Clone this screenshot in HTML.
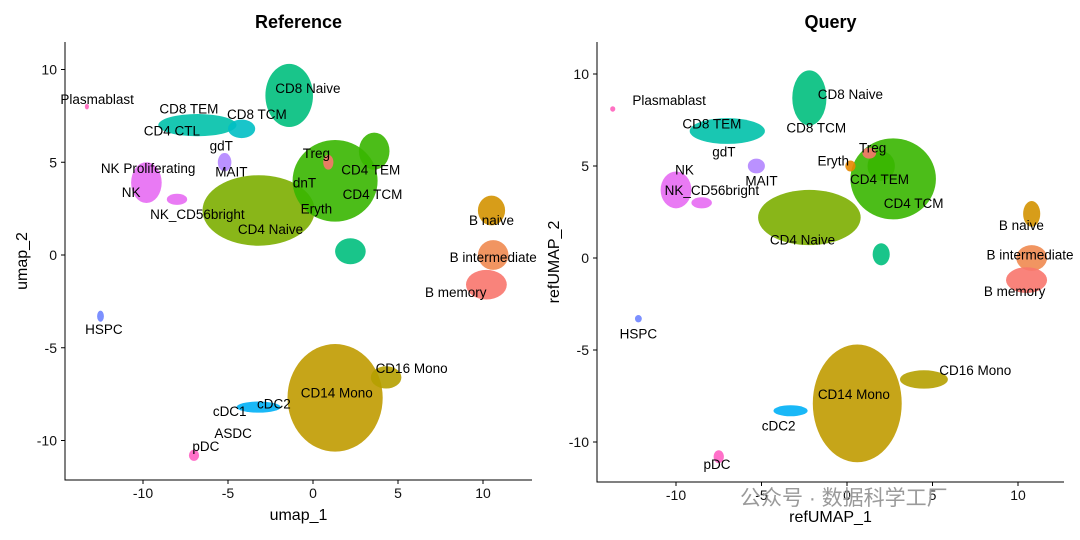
<!DOCTYPE html>
<html><head><meta charset="utf-8"><style>
body{margin:0;background:#fff;}
svg{display:block;font-family:"Liberation Sans",Arial,sans-serif;}
</style></head><body>
<svg id="chart" width="1080" height="540"></svg>
<script>
// Reference panel clusters: name, x, y, rx, ry, color
const refNames = ["CD4 Naive","CD4 TCM","CD4 TEM","CD8 Naive","CD8 Naive low","CD8 TEM","CD8 TCM","NK","NK bright","MAIT","B naive","B intermediate","B memory","CD14 Mono","CD16 Mono","cDC2","pDC","HSPC","Plasmablast","Treg"];
const refX = [-3.2,1.3,3.6,-1.4,2.2,-6.8,-4.2,-9.8,-8.0,-5.2,10.5,10.6,10.2,1.3,4.3,-3.2,-7.0,-12.5,-13.3,0.9];
const refY = [2.4,4.0,5.6,8.6,0.2,7.0,6.8,3.9,3.0,5.0,2.4,0.0,-1.6,-7.7,-6.6,-8.2,-10.8,-3.3,8.0,5.0];
const refRX = [3.3,2.5,0.9,1.4,0.9,2.3,0.8,0.9,0.6,0.4,0.8,0.9,1.2,2.8,0.9,1.3,0.3,0.2,0.12,0.3];
const refRY = [1.9,2.2,1.0,1.7,0.7,0.6,0.5,1.1,0.3,0.5,0.8,0.8,0.8,2.9,0.6,0.3,0.3,0.3,0.15,0.4];
const refCol = ["#7CAE00","#39B600","#39B600","#00BF7D","#00BF7D","#00C1AA","#00BFC4","#E76BF3","#E76BF3","#B385FF","#D39200","#EF8A50","#F8766D","#C09B00","#B5A000","#00B0F6","#FF61C3","#6E84FF","#FF62BC","#F8766D"];
const refLabels = ["Plasmablast","CD8 TEM","CD8 TCM","CD8 Naive","CD4 CTL","gdT","MAIT","NK Proliferating","NK","NK_CD56bright","Treg","CD4 TEM","dnT","CD4 TCM","Eryth","CD4 Naive","B naive","B intermediate","B memory","HSPC","CD16 Mono","CD14 Mono","cDC1","cDC2","ASDC","pDC"];
const refLX = [-12.7,-7.3,-3.3,-0.3,-8.3,-5.4,-4.8,-9.7,-10.7,-6.8,0.2,3.4,-0.5,3.5,0.2,-2.5,10.5,10.6,8.4,-12.3,5.8,1.4,-4.9,-2.3,-4.7,-6.3];
const refLY = [8.4,7.9,7.6,9.0,6.7,5.9,4.5,4.7,3.4,2.2,5.5,4.6,3.9,3.3,2.5,1.4,1.9,-0.1,-2.0,-4.0,-6.1,-7.4,-8.4,-8.0,-9.6,-10.3];
// Query panel
const qNames = ["CD4 Naive","CD4 TCM","CD4 TEM","CD8 Naive","CD8 Naive low","CD8 TEM","NK","NK bright","MAIT","B naive","B intermediate","B memory","CD14 Mono","CD16 Mono","cDC2","pDC","HSPC","Plasmablast","Treg","Eryth"];
const qX = [-2.2,2.7,2.0,-2.2,2.0,-7.0,-10.0,-8.5,-5.3,10.8,10.8,10.5,0.6,4.5,-3.3,-7.5,-12.2,-13.7,1.3,0.2];
const qY = [2.2,4.3,5.0,8.7,0.2,6.9,3.7,3.0,5.0,2.4,0.0,-1.2,-7.9,-6.6,-8.3,-10.8,-3.3,8.1,5.7,5.0];
const qRX = [3.0,2.5,0.8,1.0,0.5,2.2,0.9,0.6,0.5,0.5,0.9,1.2,2.6,1.4,1.0,0.3,0.2,0.15,0.4,0.3];
const qRY = [1.5,2.2,0.8,1.5,0.6,0.7,1.0,0.3,0.4,0.7,0.7,0.7,3.2,0.5,0.3,0.35,0.2,0.15,0.3,0.3];
const qCol = ["#7CAE00","#39B600","#39B600","#00BF7D","#00BF7D","#00C1AA","#E76BF3","#E76BF3","#B385FF","#D39200","#EF8A50","#F8766D","#C09B00","#B5A000","#00B0F6","#FF61C3","#6E84FF","#FF62BC","#F8766D","#E58700"];
const qLabels = ["Plasmablast","CD8 TEM","CD8 TCM","CD8 Naive","NK","gdT","MAIT","NK_CD56bright","Treg","Eryth","CD4 TEM","CD4 TCM","CD4 Naive","B naive","B intermediate","B memory","HSPC","CD16 Mono","CD14 Mono","cDC2","pDC"];
const qLX = [-10.4,-7.9,-1.8,0.2,-9.5,-7.2,-5.0,-7.9,1.5,-0.8,1.9,3.9,-2.6,10.2,10.7,9.8,-12.2,7.5,0.4,-4.0,-7.6];
const qLY = [8.6,7.3,7.1,8.9,4.8,5.8,4.2,3.7,6.0,5.3,4.3,3.0,1.0,1.8,0.2,-1.8,-4.1,-6.1,-7.4,-9.1,-11.2];
const xTicks = [-10,-5,0,5,10];
const yTicks = [-10,-5,0,5,10];

const svg = document.getElementById('chart');
const NS = 'http://www.w3.org/2000/svg';
function mk(tag, attrs, parent){const e=document.createElementNS(NS,tag);for(const k in attrs)e.setAttribute(k,attrs[k]);parent.appendChild(e);return e;}

function panel(p){
  const g = mk('g',{},svg);
  
  
  const sx = v => p.x0 + v*p.kx;
  const sy = v => p.y0 - v*p.ky;
  const t = mk('text',{x:(p.left+p.right)/2,y:28,'text-anchor':'middle','font-size':18,'font-weight':'bold'},g);
  t.textContent = p.title;
  
  
  for(let i=0;i<p.names.length;i++){
    const e = mk('ellipse',{cx:sx(p.cx[i]),cy:sy(p.cy[i]),rx:p.rx[i]*p.kx,ry:p.ry[i]*p.ky,fill:p.col[i],'fill-opacity':0.9},g);
    
    
  }
  for(let i=0;i<p.labels.length;i++){
    const l = mk('text',{x:sx(p.lx[i]),y:sy(p.ly[i])+5,'text-anchor':'middle','font-size':13.5,fill:'#000'},g);
    l.textContent = p.labels[i];
    
    
  }
  const ax = mk('path',{d:`M${p.left},42V${p.bottom}H${p.right}`,stroke:'#000','stroke-width':1,fill:'none'},g);
  
  
  xTicks.forEach(v=>{
    mk('line',{x1:sx(v),x2:sx(v),y1:p.bottom,y2:p.bottom+4,stroke:'#000'},g);
    const tl = mk('text',{x:sx(v),y:p.bottom+18,'text-anchor':'middle','font-size':14,fill:'#111'},g);
    tl.textContent = v;
    
    
  });
  yTicks.forEach(v=>{
    mk('line',{x1:p.left-4,x2:p.left,y1:sy(v),y2:sy(v),stroke:'#000'},g);
    const tl = mk('text',{x:p.left-8,y:sy(v)+5,'text-anchor':'end','font-size':14,fill:'#111'},g);
    tl.textContent = v;
    
    
  });
  const xt = mk('text',{x:(p.left+p.right)/2,y:p.bottom+40,'text-anchor':'middle','font-size':16},g);
  xt.textContent = p.xl;
  
  
  const yt = mk('text',{x:0,y:0,'text-anchor':'middle','font-size':16,transform:`translate(${p.left-38},${(42+p.bottom)/2}) rotate(-90)`},g);
  yt.textContent = p.yl;
  
  
}
panel({key:'reference',title:'Reference',left:65,right:532,bottom:480,x0:313,y0:255,kx:17,ky:18.55,
  names:refNames,cx:refX,cy:refY,rx:refRX,ry:refRY,col:refCol,labels:refLabels,lx:refLX,ly:refLY,xl:'umap_1',yl:'umap_2'});
panel({key:'query',title:'Query',left:597,right:1064,bottom:482,x0:847,y0:258,kx:17.1,ky:18.4,
  names:qNames,cx:qX,cy:qY,rx:qRX,ry:qRY,col:qCol,labels:qLabels,lx:qLX,ly:qLY,xl:'refUMAP_1',yl:'refUMAP_2'});
const wm = mk('text',{x:740,y:505,'font-size':21,fill:'#9a9a9a','font-family':'"Liberation Sans","Noto Sans CJK SC",sans-serif'},svg);
wm.textContent = '公众号 · 数据科学工厂';


</script>
</body></html>
